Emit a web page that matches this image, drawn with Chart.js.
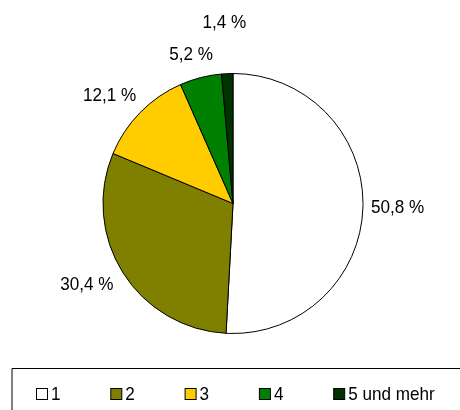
<!DOCTYPE html>
<html lang="de">
  <head>
    <meta charset="UTF-8" />
    <title>Haushaltsgröße</title>
    <script src="https://cdn.jsdelivr.net/npm/chart.js"></script>
    <style>
      html, body { margin: 0; padding: 0; background: #fff; }
      #wrap { width: 460px; height: 410px; position: relative; }
    </style>
  </head>
  <body>
    <div id="wrap"><canvas id="pieChart"></canvas></div>

    <script>
      // Daten
      const categories = ["1", "2", "3", "4", "5 und mehr"];
      const shares = [50.8, 30.4, 12.1, 5.2, 1.4];

      // Farben
      const sliceColors = ["#ffffff", "#808000", "#ffcc00", "#008000", "#003300"];
      const FONT = "19px 'Liberation Sans', Arial, sans-serif";
      const SQUEEZE = 0.9; // etwas schmalere Schrift wie im Original

      function fmt(v) {
        return v.toFixed(1).replace(".", ",") + " %";
      }

      // Text leicht gestaucht zeichnen
      function squeezedText(ctx, text, x, y) {
        ctx.save();
        ctx.translate(x, y);
        ctx.scale(SQUEEZE, 1);
        ctx.fillText(text, 0, 0);
        ctx.restore();
      }

      // Prozentangaben außerhalb der Segmente
      const outsideLabels = {
        id: "outsideLabels",
        afterDatasetsDraw(chart, args, opts) {
          const ctx = chart.ctx;
          const meta = chart.getDatasetMeta(0);
          ctx.save();
          ctx.font = FONT;
          ctx.fillStyle = "#000";
          ctx.textAlign = "center";
          ctx.textBaseline = "middle";
          meta.data.forEach((arc, i) => {
            const p = arc.getProps(["x", "y", "startAngle", "endAngle", "outerRadius"], true);
            const mid = (p.startAngle + p.endAngle) / 2;
            const dx = Math.cos(mid);
            const dy = Math.sin(mid);
            const r = p.outerRadius + opts.gaps[i];
            const text = fmt(chart.data.datasets[0].data[i]);
            const w = ctx.measureText(text).width * SQUEEZE;
            const h = 15;
            const x = p.x + dx * r + dx * w / 2;
            const y = p.y + dy * r + dy * h / 2;
            squeezedText(ctx, text, x, y);
          });
          ctx.restore();
        },
      };

      // Legende mit Rahmen unten
      const boxLegend = {
        id: "boxLegend",
        afterDraw(chart) {
          const ctx = chart.ctx;
          ctx.save();
          ctx.strokeStyle = "#000";
          ctx.lineWidth = 1;
          ctx.beginPath();
          ctx.moveTo(12, 410);
          ctx.lineTo(12, 368.5);
          ctx.lineTo(460, 368.5);
          ctx.stroke();

          ctx.font = FONT;
          ctx.textAlign = "left";
          ctx.textBaseline = "middle";
          const colors = chart.data.datasets[0].backgroundColor;
          chart.data.labels.forEach((label, i) => {
            const x = 36 + i * 74.3;
            ctx.fillStyle = colors[i];
            ctx.fillRect(x + 0.5, 388.5, 11, 11);
            ctx.strokeStyle = "#000";
            ctx.strokeRect(x + 0.5, 388.5, 11, 11);
            ctx.fillStyle = "#000";
            squeezedText(ctx, label, x + 15, 394.5);
          });
          ctx.restore();
        },
      };

      new Chart(document.getElementById("pieChart").getContext("2d"), {
        type: "pie",
        data: {
          labels: categories,
          datasets: [
            {
              data: shares,
              backgroundColor: sliceColors,
              borderColor: "#000",
              borderWidth: 1,
            },
          ],
        },
        options: {
          responsive: true,
          maintainAspectRatio: false,
          animation: false,
          radius: 130,
          layout: {
            padding: { left: 102, right: 96, top: 73, bottom: 76 },
          },
          plugins: {
            legend: { display: false },
            tooltip: { enabled: false },
            outsideLabels: { gaps: [8, 16, 16, 16, 43] },
          },
        },
        plugins: [outsideLabels, boxLegend],
      });
    </script>
  </body>
</html>
